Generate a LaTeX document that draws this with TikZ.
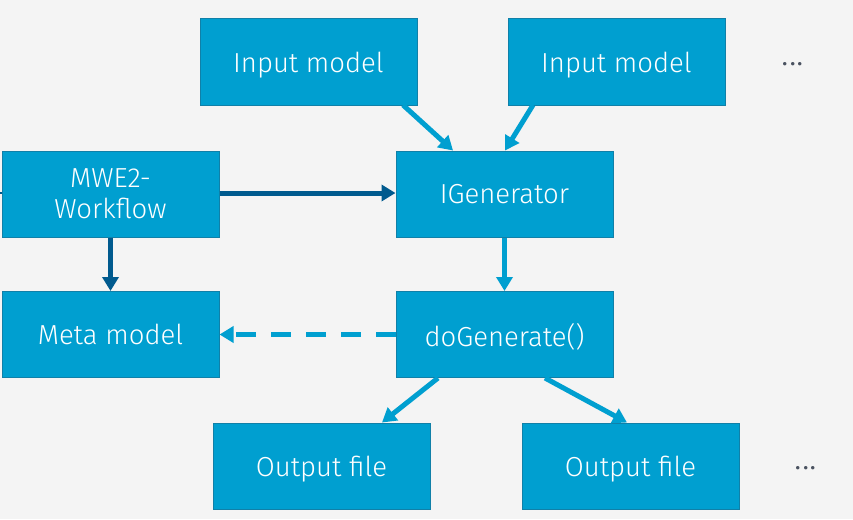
\documentclass[tikz,border=0pt]{standalone}
\usepackage{fontspec}
\setmainfont{Fira Sans Light}
\usetikzlibrary{arrows.meta}
\definecolor{bg}{HTML}{F4F4F4}
\definecolor{boxfill}{HTML}{009FD0}
\definecolor{boxline}{HTML}{1080A8}
\definecolor{lightarrow}{HTML}{009FD0}
\definecolor{darkarrow}{HTML}{005A8E}
\definecolor{dotcol}{HTML}{4A5260}
\tikzset{
  blockbox/.style={draw=boxline, line width=1pt, fill=boxfill, text=white,
    minimum width=217pt, minimum height=86pt, inner sep=0pt, align=center,
    text depth=0pt, font=\fontsize{27.5}{32}\selectfont},
  lightarr/.style={draw=lightarrow, line width=5pt, -{Triangle[length=14pt,width=16pt]}},
  darkarr/.style={draw=darkarrow, line width=5pt, -{Triangle[length=14pt,width=16pt]}},
  dotsnode/.style={text=dotcol, font=\fontsize{36}{38}\selectfont, inner sep=0pt, anchor=base}
}
\begin{document}
\begin{tikzpicture}[x=1pt,y=-1pt]
\fill[bg] (0,0) rectangle (853,519);
\useasboundingbox (0,0) rectangle (853,519);
\node[blockbox] (in1) at (308.5,62) {Input model};
\node[blockbox] (in2) at (616.5,62) {Input model};
\node[blockbox] (mwe) at (110.5,194) {MWE2-\\[-1pt]Workflow};
\node[blockbox] (gen) at (504.5,194) {IGenerator};
\node[blockbox] (meta) at (110.5,334.5) {Meta model};
\node[blockbox] (dog) at (504.5,334.5) {doGenerate()};
\node[blockbox] (out1) at (321.5,466) {Output file};
\node[blockbox] (out2) at (630.5,466) {Output file};
\node[dotsnode] (dots1) at (793,65) {...};
\node[dotsnode] (dots2) at (806,469) {...};
\coordinate (leftstub) at (0,193);
\draw[darkarrow, line width=2pt] (leftstub) -- (mwe.west |- leftstub);
\draw[lightarr] (403,105) -- (gen.north -| 453,0);
\draw[lightarr] (533,105) -- (gen.north -| 505,0);
\draw[darkarr] (mwe.east |- 0,193) -- (gen.west |- 0,193);
\draw[darkarr] (mwe.south) -- (meta.north);
\draw[lightarr] (gen.south) -- (dog.north);
\draw[lightarr, dash pattern=on 20pt off 15pt] (dog.west) -- (meta.east);
\draw[lightarr] (dog.south -| 438,0) -- (out1.north -| 382,0);
\draw[lightarr] (dog.south -| 545,0) -- (out2.north -| 627,0);
\end{tikzpicture}
\end{document}
